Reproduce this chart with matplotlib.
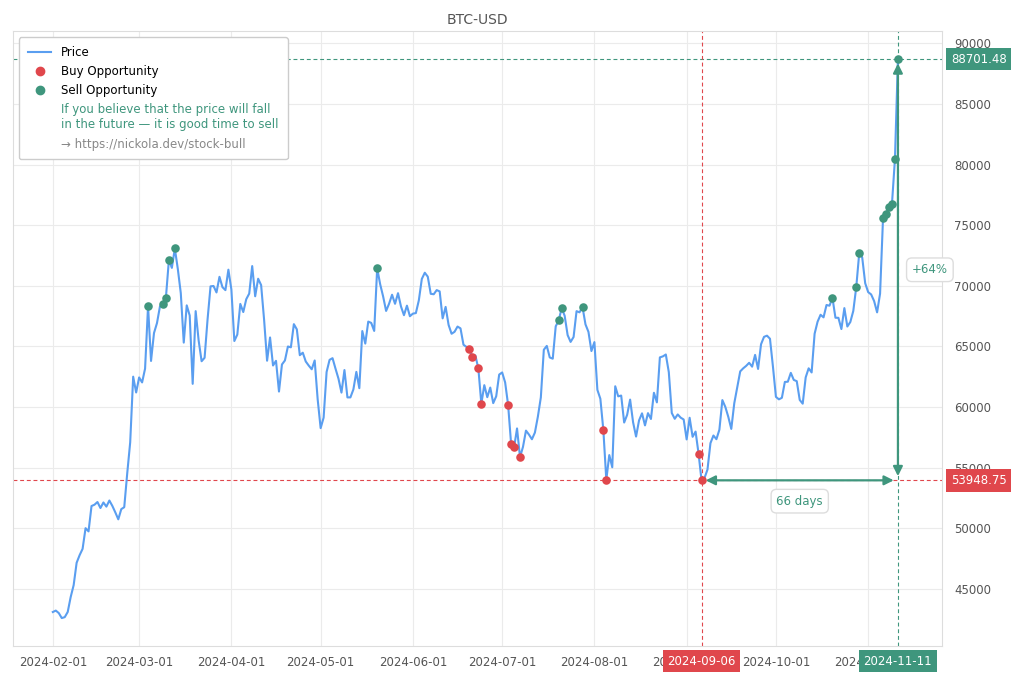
import pandas as pd
import matplotlib
matplotlib.use("Agg")
import matplotlib.pyplot as plt
import matplotlib.dates as mdates
from matplotlib.lines import Line2D

# daily closes, one list per month
feb = [43082, 43200, 42995, 42583, 42658, 43084, 44318, 45301, 47147, 47771,
       48293, 50000, 49734, 51827, 51938, 52160, 51663, 52122, 51779, 52284,
       51839, 51304, 50731, 51571, 51733, 54523, 57085, 62504, 61198]
mar = [62440, 62029, 63167, 68330, 63801, 66107, 66926, 68300, 68498, 69020,
       72123, 71482, 73084, 71397, 69403, 65315, 68390, 67548, 61912, 67913,
       65491, 63778, 64062, 67234, 69958, 69987, 69455, 70744, 69892, 69645,
       71333]
apr = [69702, 65446, 65980, 68508, 67837, 68896, 69362, 71631, 69139, 70587,
       70060, 67195, 63821, 65739, 63426, 63811, 61276, 63512, 63843, 64994,
       64927, 66837, 66408, 64276, 64481, 63755, 63419, 63114, 63842, 60636]
may = [58254, 59123, 62889, 63892, 64031, 63162, 62334, 61187, 63050, 60793,
       60794, 61448, 62901, 61553, 66267, 65232, 67051, 66940, 66278, 71448,
       70136, 69122, 67929, 68526, 69265, 68518, 69394, 68296, 67578, 68364,
       67491]
jun = [67706, 67751, 68804, 70567, 71082, 70757, 69342, 69305, 69648, 69540,
       67314, 68263, 66773, 66044, 66207, 66639, 66490, 65140, 64960, 64828,
       64096, 64253, 63180, 60277, 61804, 60811, 61604, 60320, 60887, 62678]
jul = [62851, 62029, 60173, 56977, 56663, 58231, 55857, 56714, 58052, 57725,
       57339, 57889, 59204, 60797, 64724, 65043, 64087, 63987, 66660, 67140,
       68165, 67532, 65936, 65372, 65777, 67912, 67813, 68255, 66819, 66201,
       64619]
aug = [65357, 61415, 60680, 58116, 53991, 56034, 55027, 61710, 60880, 60945,
       58719, 59354, 60610, 58737, 57560, 58894, 59478, 58483, 59493, 59012,
       61175, 60381, 64094, 64178, 64333, 62880, 59504, 59027, 59388, 59119,
       58970]
sep = [57325, 59112, 57541, 57971, 56160, 53948.75, 54140, 54841, 57019, 57648,
       57343, 58127, 60571, 60005, 59182, 58192, 60308, 61649, 62940, 63192,
       63394, 63648, 63329, 64301, 63143, 65181, 65790, 65887, 65635, 63329]
oct_ = [60837, 60632, 60759, 62068, 62089, 62818, 62236, 62131, 60583, 60275,
        62445, 63193, 62851, 66046, 67041, 67612, 67399, 68418, 68362, 69001,
        67367, 67361, 66432, 68161, 66642, 67014, 67929, 69907, 72720, 72339,
        70215]
nov = [69482, 69289, 68742, 67811, 69359, 75639, 75904, 76545, 76778, 80474,
       88701.48]

buy_dates = ["2024-06-20", "2024-06-21", "2024-06-23", "2024-06-24",
             "2024-07-03", "2024-07-04", "2024-07-05", "2024-07-07",
             "2024-08-04", "2024-08-05", "2024-09-05", "2024-09-06"]
sell_dates = ["2024-03-04", "2024-03-09", "2024-03-10", "2024-03-11",
              "2024-03-13", "2024-05-20", "2024-07-20", "2024-07-21",
              "2024-07-28", "2024-10-20", "2024-10-28", "2024-10-29",
              "2024-11-06", "2024-11-07", "2024-11-08", "2024-11-09",
              "2024-11-10", "2024-11-11"]

best_buy = "2024-09-06"
best_sell = "2024-11-11"

BLUE = "#5a9ef0"
RED = "#e0474c"
GREEN = "#3f967d"
GRAY = "#555555"

prices = feb + mar + apr + may + jun + jul + aug + sep + oct_ + nov
price = pd.Series(prices, index=pd.date_range("2024-02-01", periods=len(prices), freq="D"))
buys = price[pd.to_datetime(buy_dates)]
sells = price[pd.to_datetime(sell_dates)]

t_buy, t_sell = pd.Timestamp(best_buy), pd.Timestamp(best_sell)
p_buy, p_sell = price[t_buy], price[t_sell]

fig, ax = plt.subplots(figsize=(10.2, 6.8), dpi=100)
fig.subplots_adjust(left=0.0127, right=0.9235, top=0.954, bottom=0.05)

ax.plot(price.index, price.values, color=BLUE, lw=1.5, zorder=3)
ax.scatter(buys.index, buys.values, s=38, color=RED, zorder=4, linewidths=0)
ax.scatter(sells.index, sells.values, s=38, color=GREEN, zorder=4, linewidths=0)

dash = (0, (3.5, 2.5))
ax.axhline(p_buy, color=RED, ls=dash, lw=0.8, zorder=2)
ax.axhline(p_sell, color=GREEN, ls=dash, lw=0.8, zorder=2)
ax.axvline(t_buy, color=RED, ls=dash, lw=0.8, zorder=2)
ax.axvline(t_sell, color=GREEN, ls=dash, lw=0.8, zorder=2)

# arrows: holding period and gain
arrow = dict(arrowstyle="<|-|>", color=GREEN, lw=1.6, mutation_scale=14,
             shrinkA=3, shrinkB=3)
ax.annotate("", xy=(t_buy, p_buy), xytext=(t_sell, p_buy), arrowprops=arrow, zorder=5)
ax.annotate("", xy=(t_sell, p_buy), xytext=(t_sell, p_sell), arrowprops=arrow, zorder=5)

days = (t_sell - t_buy).days
gain = (p_sell / p_buy - 1) * 100
box = dict(boxstyle="round,pad=0.45", fc="white", ec="#dddddd", lw=1)
ax.annotate(f"{days} days", xy=(t_buy + (t_sell - t_buy) / 2, p_buy),
            xytext=(0, -15), textcoords="offset points", ha="center", va="center",
            color=GREEN, fontsize=8.5, bbox=box, zorder=6)
ax.annotate(f"+{gain:.0f}%", xy=(t_sell, (p_buy + p_sell) / 2),
            xytext=(23, 0), textcoords="offset points", ha="center", va="center",
            color=GREEN, fontsize=8.5, bbox=box, zorder=6)

ax.set_xlim(price.index[0] - pd.Timedelta(days=13.4),
            price.index[-1] + pd.Timedelta(days=14.8))

# value tags on the right, date tags at the bottom
ytr = ax.get_yaxis_transform()
xtr = ax.get_xaxis_transform()
for p, c in [(p_sell, GREEN), (p_buy, RED)]:
    ax.text(1.0095, p, f"{p:.2f}", transform=ytr, ha="left", va="center",
            color="white", fontsize=8.5, clip_on=False, zorder=7,
            bbox=dict(boxstyle="square,pad=0.4", fc=c, ec="none"))
for t, c in [(t_buy, RED), (t_sell, GREEN)]:
    ax.text(t, -0.014, t.strftime("%Y-%m-%d"), transform=xtr, ha="center", va="top",
            color="white", fontsize=8.5, clip_on=False, zorder=7,
            bbox=dict(boxstyle="square,pad=0.4", fc=c, ec="none"))

ax.set_title("BTC-USD", color=GRAY, fontsize=10, pad=5)
ax.yaxis.tick_right()
ax.set_yticks(range(45000, 90001, 5000))
ax.xaxis.set_major_locator(mdates.MonthLocator())
ax.xaxis.set_major_formatter(mdates.DateFormatter("%Y-%m-%d"))
ax.tick_params(axis="both", length=0, labelsize=8.5, labelcolor=GRAY)
ax.tick_params(axis="y", pad=9)
ax.tick_params(axis="x", pad=7)
ax.grid(color="#ebebeb", lw=0.8)
ax.set_axisbelow(True)
for sp in ax.spines.values():
    sp.set_color("#dddddd")

handles = [
    Line2D([], [], color=BLUE, lw=1.5),
    Line2D([], [], ls="none", marker="o", ms=6, color=RED),
    Line2D([], [], ls="none", marker="o", ms=6, color=GREEN),
    Line2D([], [], ls="none"),
    Line2D([], [], ls="none"),
]
labels = ["Price", "Buy Opportunity", "Sell Opportunity",
          "If you believe that the price will fall\nin the future \u2014 it is good time to sell",
          "\u2192 https://nickola.dev/stock-bull"]
leg = ax.legend(handles, labels, loc="upper left", fontsize=8.5, framealpha=1,
                edgecolor="#cccccc", labelspacing=0.52, borderpad=0.75,
                handletextpad=0.85)
texts = leg.get_texts()
texts[3].set_color(GREEN)
texts[4].set_color("#888888")

fig.savefig("out.png", dpi=100)
